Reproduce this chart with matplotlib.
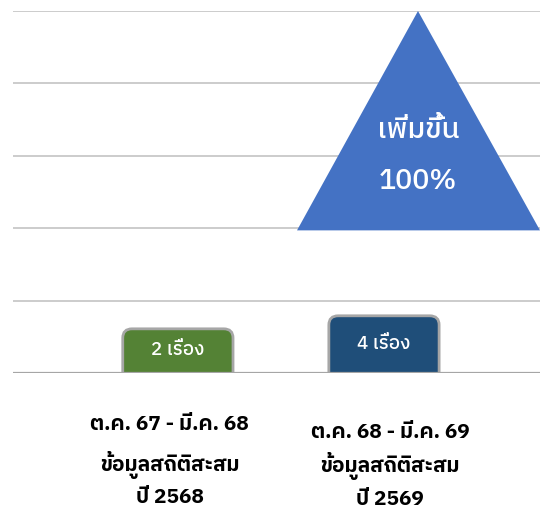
import matplotlib
matplotlib.use("Agg")
import matplotlib.pyplot as plt
from matplotlib.patches import FancyBboxPatch, Polygon

plt.rcParams['font.family'] = ['IBM Plex Sans Thai', 'Noto Sans', 'DejaVu Sans']

# ข้อมูล
categories = [["ต.ค. 67 - มี.ค. 68", "ข้อมูลสถิติสะสม", "ปี 2568"],
              ["ต.ค. 68 - มี.ค. 69", "ข้อมูลสถิติสะสม", "ปี 2569"]]
counts = [2, 4]
box_colors = ["#548235", "#1f4e79"]
box_heights = [0.61, 0.79]
grid_levels = [0, 1, 2, 3, 4, 5]

increase = (counts[1] - counts[0]) / counts[0] * 100

fig = plt.figure(figsize=(5.47, 5.12), dpi=100)
ax = fig.add_axes([13 / 547, (512 - 373) / 512, 527 / 547, 362 / 512])
ax.set_xlim(-0.80, 1.757)
ax.set_ylim(0, 5)
ax.axis('off')

# เส้นกริด
for g in grid_levels[1:]:
    ax.axhline(g, color="#cccccc", lw=1.4, zorder=1)

# สามเหลี่ยม "เพิ่มขึ้น"
tri = Polygon([[0.578, 1.97], [1.757, 1.97], [1.165, 5.0]], closed=True,
              facecolor="#4472c4", edgecolor="none", zorder=2)
ax.add_patch(tri)
ax.text(1.165, 3.36, "เพิ่มขึ้น", color="white", fontsize=21, fontweight="medium",
        ha="center", va="center", zorder=3)
ax.text(1.165, 2.65, f"{increase:.0f}%", color="white", fontsize=20.5, fontweight="medium",
        ha="center", va="center", zorder=3)

# กล่องจำนวนเรื่อง
for i, (n, c, h) in enumerate(zip(counts, box_colors, box_heights)):
    w = 0.535
    box = FancyBboxPatch((i - w / 2, -0.2), w, h + 0.2,
                         boxstyle="round,pad=0,rounding_size=0.045",
                         facecolor=c, edgecolor="#a6a6a6", lw=2, zorder=4,
                         mutation_aspect=2.8)
    ax.add_patch(box)
    ax.text(i, h / 2 + 0.01, f"{n} เรื่อง", color="white", fontsize=13.5, fontweight="medium",
            ha="center", va="center", zorder=5)

# ปิดส่วนกล่องที่ล้นใต้เส้นฐาน
ax.axhspan(-0.4, 0, color="white", zorder=4.5)
ax.axhline(0, color="#a6a6a6", lw=1.6, zorder=6)

# ป้ายหมวดหมู่
label_x = [-0.039, 1.029]
label_y = [[-0.71, -1.271, -1.713], [-0.815, -1.285, -1.754]]
for i, lines in enumerate(categories):
    for line, y in zip(lines, label_y[i]):
        ax.text(label_x[i], y, line, fontsize=15, fontweight="bold",
                ha="center", va="center", clip_on=False)

fig.savefig("out.png", dpi=100)
